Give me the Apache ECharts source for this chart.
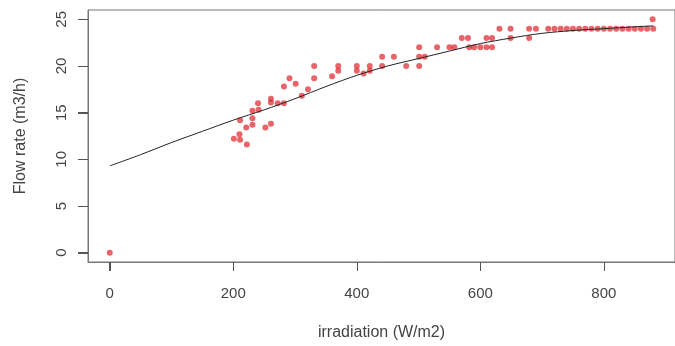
<!DOCTYPE html>
<html>
<head>
<meta charset="utf-8">
<script src="https://cdn.jsdelivr.net/npm/echarts@6/dist/echarts.min.js"></script>
<style>html,body{margin:0;padding:0;background:#fff}#c{width:675px;height:346px}</style>
</head>
<body>
<div id="c"></div>
<script>
// Scatter observations
const irradiation = [0,201,210,211,211,222,221,231,231,231,240,241,252,261,261,261,272,282,282,291,301,311,321,331,331,360,370,370,400,400,411,421,421,441,441,460,480,501,501,501,510,530,550,558,570,580,582,590,600,610,619,610,619,631,649,649,679,690,679,710,720,730,740,750,760,770,780,790,800,810,820,830,840,850,860,870,880,879];
const flowRate    = [0,12.2,12.7,12.1,14.2,11.6,13.4,13.7,14.4,15.2,16.0,15.3,13.4,13.8,16.5,16.1,16.0,16.0,17.8,18.7,18.1,16.8,17.5,18.7,20.0,18.9,19.5,20.0,19.5,20.0,19.2,19.5,20.0,20.0,21.0,21.0,20.0,20.0,21.0,22.0,21.0,22.0,22.0,22.0,23.0,23.0,22.0,22.0,22.0,22.0,22.0,23.0,23.0,24.0,24.0,23.0,24.0,24.0,23.0,24,24,24,24,24,24,24,24,24,24,24,24,24,24,24,24,24,24,25.0];
// Fitted curve
const fitX = [0,50,100,150,200,250,300,350,400,450,500,550,600,650,700,750,800,850,880];
const fitY = [9.3,10.5,11.8,13.0,14.2,15.3,16.5,17.8,19.0,20.0,20.8,21.6,22.4,23.0,23.5,23.8,24.0,24.2,24.3];
// Tick labels
const xTicks = [0,200,400,600,800];
const yTicks = [0,5,10,15,20,25];
const xTitle = 'irradiation (W/m2)';
const yTitle = 'Flow rate (m3/h)';
// Axis ranges
const xMin = -35.2, xMax = 915.2;
const yMin = -1, yMax = 26;

const chart = echarts.init(document.getElementById('c'), null, {renderer: 'canvas'});
const font = 'Liberation Sans, Arial, sans-serif';
chart.setOption({
  animation: false,
  grid: {left: 88, right: -13, top: 10, bottom: 82, show: true, borderColor: '#777', borderWidth: 1},
  xAxis: {
    type: 'value', min: xMin, max: xMax,
    name: xTitle, nameLocation: 'middle', nameGap: 63,
    nameTextStyle: {fontFamily: font, fontSize: 16, color: '#444'},
    axisLine: {show: true, onZero: false, lineStyle: {color: '#777', width: 1}},
    splitLine: {show: false},
    axisTick: {show: true, length: 9, lineStyle: {color: '#555', width: 1}, customValues: xTicks},
    axisLabel: {fontFamily: font, fontSize: 15, color: '#444', margin: 24, customValues: xTicks}
  },
  yAxis: {
    type: 'value', min: yMin, max: yMax,
    name: yTitle, nameLocation: 'middle', nameGap: 59,
    nameTextStyle: {fontFamily: font, fontSize: 16, color: '#444'},
    axisLine: {show: true, onZero: false, lineStyle: {color: '#777', width: 1}},
    splitLine: {show: false},
    axisTick: {show: true, length: 10, lineStyle: {color: '#555', width: 1}, customValues: yTicks},
    axisLabel: {fontFamily: font, fontSize: 15, color: '#444', margin: 19, rotate: 90, customValues: yTicks}
  },
  series: [
    {type: 'line', data: fitX.map((x, i) => [x, fitY[i]]), showSymbol: false, smooth: 0.3,
     lineStyle: {color: '#222', width: 1}, z: 3, silent: true},
    {type: 'scatter', data: irradiation.map((x, i) => [x, flowRate[i]]), symbolSize: 6,
     itemStyle: {color: 'rgba(220,30,35,0.85)'}, z: 2}
  ]
});

// Tick marks placed through the chart's own axis scales
const yBottom = chart.convertToPixel({yAxisIndex: 0}, yMin);
const xLeft = chart.convertToPixel({xAxisIndex: 0}, xMin);
const tickEls = [];
xTicks.forEach(v => {
  const px = Math.round(chart.convertToPixel({xAxisIndex: 0}, v)) + 0.5;
  tickEls.push({type: 'line', z: 100, silent: true,
    shape: {x1: px, y1: yBottom, x2: px, y2: yBottom + 9},
    style: {stroke: '#555', lineWidth: 1}});
});
yTicks.forEach(v => {
  const py = Math.round(chart.convertToPixel({yAxisIndex: 0}, v)) + 0.5;
  tickEls.push({type: 'line', z: 100, silent: true,
    shape: {x1: xLeft - 10, y1: py, x2: xLeft, y2: py},
    style: {stroke: '#555', lineWidth: 1}});
});
chart.setOption({graphic: {elements: tickEls}});
</script>
</body>
</html>
